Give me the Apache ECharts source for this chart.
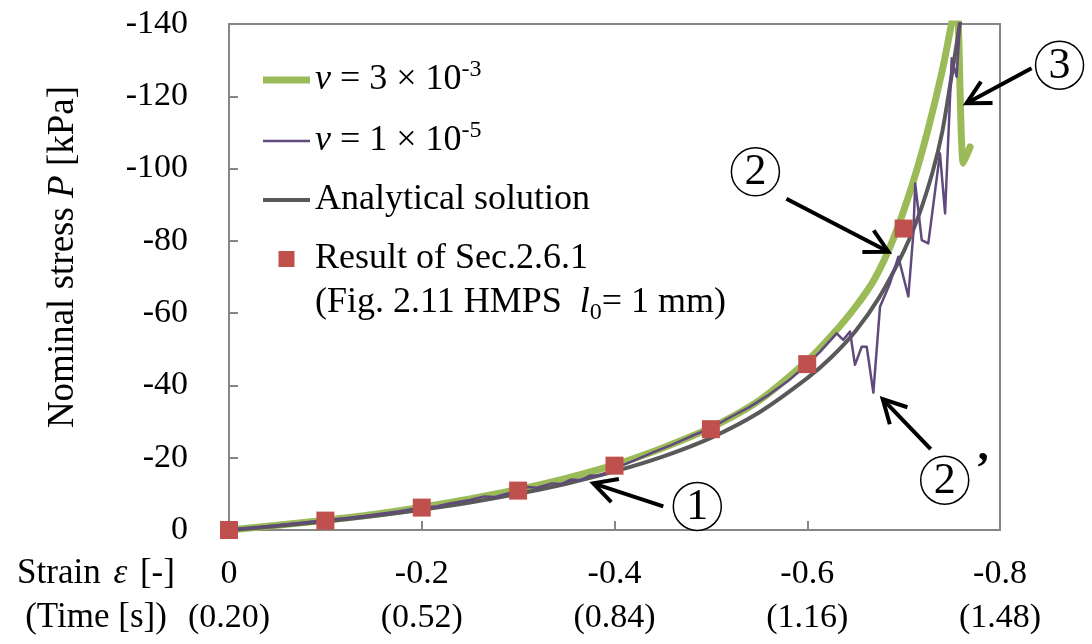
<!DOCTYPE html>
<html>
<head>
<meta charset="utf-8">
<script src="https://cdn.jsdelivr.net/npm/echarts@6/dist/echarts.min.js"></script>
<style>
html,body{margin:0;padding:0;background:#ffffff;}
#chart{width:1092px;height:644px;}
</style>
</head>
<body>
<div id="chart"></div>
<script>
// ---------------- DATA ----------------
const strainTickLabels = ['0', '-0.2', '-0.4', '-0.6', '-0.8'];
const timeTickLabels = ['(0.20)', '(0.52)', '(0.84)', '(1.16)', '(1.48)'];

const seriesNames = ['nu3e-3', 'nu1e-5', 'Analytical solution', 'Result of Sec.2.6.1'];

// nu = 3e-3 (green)
const greenStrain = [0, -0.05, -0.1, -0.15, -0.2, -0.25, -0.3, -0.35, -0.4, -0.45, -0.5, -0.55, -0.6, -0.625, -0.65, -0.67, -0.69, -0.71, -0.725, -0.74, -0.75, -0.755, -0.762, -0.769];
const greenStress = [0, -1.3, -2.7, -4.3, -6.3, -8.6, -11.2, -14.3, -18.0, -22.7, -28.3, -35.8, -46.8, -53.7, -61.7, -69.5, -81.0, -96.4, -110.5, -127.0, -140.5, -148.0, -101.5, -106.0];

// nu = 1e-5 (purple)
const purpleStrain = [0, -0.025, -0.05, -0.075, -0.1, -0.125, -0.15, -0.175, -0.2, -0.215, -0.23, -0.25, -0.265, -0.275, -0.29, -0.3, -0.31, -0.32, -0.335, -0.345, -0.355, -0.365, -0.375, -0.385, -0.4, -0.42, -0.44, -0.46, -0.48, -0.5, -0.52, -0.54, -0.56, -0.58, -0.6, -0.6132, -0.6305, -0.6374, -0.6444, -0.6495, -0.6565, -0.6617, -0.6686, -0.6755, -0.6859, -0.6945, -0.7049, -0.7101, -0.712, -0.7188, -0.7256, -0.7377, -0.743, -0.7499, -0.755, -0.7585, -0.76];
const purpleStress = [0, -0.6, -1.3, -2.0, -2.7, -3.4, -4.2, -5.1, -6.2, -6.5, -7.4, -8.3, -9.3, -9.1, -10.2, -10.8, -11.9, -11.7, -12.9, -12.7, -14.0, -13.8, -15.1, -15.0, -17.0, -19.2, -21.5, -23.6, -26.0, -28.2, -31.2, -34.0, -37.4, -41.2, -45.8, -49.3, -54.4, -52.6, -54.9, -45.7, -50.7, -50.7, -38.0, -61.8, -68.3, -75.6, -64.6, -82.1, -95.9, -80.2, -79.3, -104.2, -87.6, -130.5, -125.4, -140.0, -146.0];

// Analytical solution (dark grey)
const analyticStrain = [0, -0.05, -0.1, -0.15, -0.2, -0.25, -0.3, -0.35, -0.4, -0.45, -0.5, -0.55, -0.6, -0.625, -0.65, -0.675, -0.7, -0.715, -0.73, -0.74, -0.75, -0.76];
const analyticStress = [0, -1.1, -2.4, -3.9, -5.6, -7.6, -10.0, -12.8, -16.2, -20.3, -25.5, -32.5, -42.0, -47.8, -55.0, -64.5, -77.0, -86.5, -99.0, -110.0, -126.0, -143.0];

// Result of Sec.2.6.1 (red squares)
const resultStrain = [0, -0.1, -0.2, -0.3, -0.4, -0.5, -0.6, -0.7];
const resultStress = [0, -2.6, -6.2, -10.9, -17.8, -27.9, -45.9, -83.4];

// Annotations: arrow tip in data coordinates, label
const annotTipStrain = [-0.378, -0.6842, -0.6783, -0.7653];
const annotTipStress = [-12.9, -77.0, -36.2, -118.1];
const annotLabels = ['1', '2', '2', '3'];

// ---------------- LAYOUT / STYLE ----------------
const FONT = "'Liberation Serif', 'Times New Roman', serif";
// pixel offsets (relative to arrow tip) for arrow tail and circle centre
const annotLayout = [
  { tail: [70, 23], circle: [104, 23], prime: false },
  { tail: [-102, -53], circle: [-133, -80], prime: false },
  { tail: [48, 50], circle: [62, 81], prime: true },
  { tail: [65, -35], circle: [93, -38], prime: false }
];

function zip(a, b) { return a.map((v, i) => [v, b[i]]); }

const legendText = {
  'nu3e-3': '{i|ν} = 3 × 10{sup|-3}',
  'nu1e-5': '{i|ν} = 1 × 10{sup|-5}',
  'Analytical solution': 'Analytical solution',
  'Result of Sec.2.6.1': 'Result of Sec.2.6.1'
};

const richStyles = {
  i: { fontFamily: FONT, fontSize: 36, fontStyle: 'italic', color: '#000' },
  sup: { fontFamily: FONT, fontSize: 24, padding: [0, 0, 20, 0], color: '#000' },
  sub: { fontFamily: FONT, fontSize: 24, padding: [20, 0, 0, 0], color: '#000' }
};

const chart = echarts.init(document.getElementById('chart'), null, { renderer: 'canvas' });

const option = {
  animation: false,
  backgroundColor: '#ffffff',
  textStyle: { fontFamily: FONT },
  grid: {
    left: 229, top: 24, width: 771, height: 506,
    show: true, borderColor: '#868686', borderWidth: 2,
    containLabel: false, outerBoundsMode: 'none'
  },
  xAxis: {
    type: 'value', inverse: true, min: -0.8, max: 0, interval: 0.2,
    axisLine: { show: true, onZero: false, lineStyle: { color: '#868686', width: 2 } },
    axisTick: { show: true, inside: true, length: 9, lineStyle: { color: '#868686', width: 2 } },
    splitLine: { show: false },
    axisLabel: {
      color: '#000', fontFamily: FONT, fontSize: 34, lineHeight: 44, margin: 22,
      formatter: function (v) {
        const i = Math.round(-v / 0.2);
        return strainTickLabels[i] + '\n' + timeTickLabels[i];
      }
    }
  },
  yAxis: {
    type: 'value', inverse: true, min: -140, max: 0, interval: 20,
    axisLine: { show: true, onZero: false, lineStyle: { color: '#868686', width: 2 } },
    axisTick: { show: true, inside: true, length: 9, lineStyle: { color: '#868686', width: 2 } },
    splitLine: { show: false },
    axisLabel: { color: '#000', fontFamily: FONT, fontSize: 34, margin: 41 },
    name: 'Nominal stress {i|P} [kPa]',
    nameLocation: 'middle', nameRotate: 90, nameGap: 147,
    nameTextStyle: {
      color: '#000', fontFamily: FONT, fontSize: 37, padding: [0, 0, 0, 40],
      rich: { i: { fontFamily: FONT, fontSize: 37, fontStyle: 'italic', color: '#000' } }
    }
  },
  legend: {
    orient: 'vertical', left: 258, top: 53,
    itemWidth: 47, itemHeight: 16, itemGap: 19,
    selectedMode: false,
    textStyle: { color: '#000', fontFamily: FONT, fontSize: 36, lineHeight: 40, rich: richStyles },
    formatter: function (name) { return legendText[name]; },
    data: [
      { name: seriesNames[0], icon: 'path://M0 0H94V14H0Z' },
      { name: seriesNames[1], icon: 'path://M0 0H94V5H0Z' },
      { name: seriesNames[2], icon: 'path://M0 0H94V8H0Z' },
      { name: seriesNames[3], icon: 'path://M0 0H10V10H0Z' }
    ]
  },
  series: [
    {
      name: seriesNames[0], type: 'line', data: zip(greenStrain, greenStress),
      showSymbol: false, symbol: 'none', clip: true, z: 2, smooth: 0.25,
      lineStyle: { color: '#9BBB59', width: 7, cap: 'round', join: 'round' },
      itemStyle: { color: '#9BBB59' }
    },
    {
      name: seriesNames[2], type: 'line', data: zip(analyticStrain, analyticStress),
      showSymbol: false, symbol: 'none', clip: true, z: 3, smooth: 0.25,
      lineStyle: { color: '#595959', width: 4, join: 'round' },
      itemStyle: { color: '#595959' }
    },
    {
      name: seriesNames[1], type: 'line', data: zip(purpleStrain, purpleStress),
      showSymbol: false, symbol: 'none', clip: true, z: 4,
      lineStyle: { color: '#604A7B', width: 2.5, join: 'round' },
      itemStyle: { color: '#604A7B' }
    },
    {
      name: seriesNames[3], type: 'scatter', data: zip(resultStrain, resultStress),
      symbol: 'rect', symbolSize: 18, z: 5,
      itemStyle: { color: '#C0504D', opacity: 1 }
    }
  ]
};

chart.setOption(option);

// -------- graphic: annotations, extra texts ----------
const g = [];
const ARM = 26, ANG = 28 * Math.PI / 180;
annotTipStrain.forEach(function (sx, k) {
  const tip = chart.convertToPixel({ gridIndex: 0 }, [sx, annotTipStress[k]]);
  const L = annotLayout[k];
  const tail = [tip[0] + L.tail[0], tip[1] + L.tail[1]];
  const th = Math.atan2(L.tail[1], L.tail[0]);
  const p1 = [tip[0] + ARM * Math.cos(th + ANG), tip[1] + ARM * Math.sin(th + ANG)];
  const p2 = [tip[0] + ARM * Math.cos(th - ANG), tip[1] + ARM * Math.sin(th - ANG)];
  const c = [tip[0] + L.circle[0], tip[1] + L.circle[1]];
  g.push({ type: 'line', z: 100, shape: { x1: tail[0], y1: tail[1], x2: tip[0], y2: tip[1] }, style: { stroke: '#000', lineWidth: 4 } });
  g.push({ type: 'polyline', z: 100, shape: { points: [p1, tip, p2] }, style: { stroke: '#000', lineWidth: 4, fill: null } });
  g.push({ type: 'circle', z: 100, shape: { cx: c[0], cy: c[1], r: 24 }, style: { stroke: '#000', lineWidth: 1.5, fill: '#fff' } });
  g.push({ type: 'text', z: 101, x: c[0], y: c[1] + 1, style: { text: annotLabels[k], fontFamily: FONT, fontSize: 44, fill: '#000', align: 'center', verticalAlign: 'middle', textAlign: 'center', textVerticalAlign: 'middle' } });
  if (L.prime) {
    g.push({ type: 'text', z: 101, x: c[0] + 38, y: c[1] - 10, style: { text: '’', fontFamily: FONT, fontSize: 44, fontWeight: 'bold', fill: '#000', align: 'center', verticalAlign: 'middle', textAlign: 'center', textVerticalAlign: 'middle' } });
  }
});

// second line of the 4th legend entry
g.push({
  type: 'text', z: 100, x: 315, y: 303,
  style: {
    text: '(Fig. 2.11 HMPS  {i|l}{sub|0}= 1 mm)',
    fontFamily: FONT, fontSize: 36, fill: '#000', lineHeight: 40,
    align: 'left', verticalAlign: 'middle', textAlign: 'left', textVerticalAlign: 'middle',
    rich: richStyles
  }
});

// x-axis title at left of the tick labels
g.push({
  type: 'text', z: 100, x: 96, y: 552,
  style: {
    text: 'Strain {ie|ε} [-]\n(Time [s])',
    fontFamily: FONT, fontSize: 35, fill: '#000', lineHeight: 44,
    align: 'center', verticalAlign: 'top', textAlign: 'center', textVerticalAlign: 'top',
    rich: { ie: { fontFamily: FONT, fontSize: 35, fontStyle: 'italic', padding: [0, 4, 0, 4], color: '#000', lineHeight: 44 } }
  }
});

chart.setOption({ graphic: { elements: g } });
</script>
</body>
</html>
